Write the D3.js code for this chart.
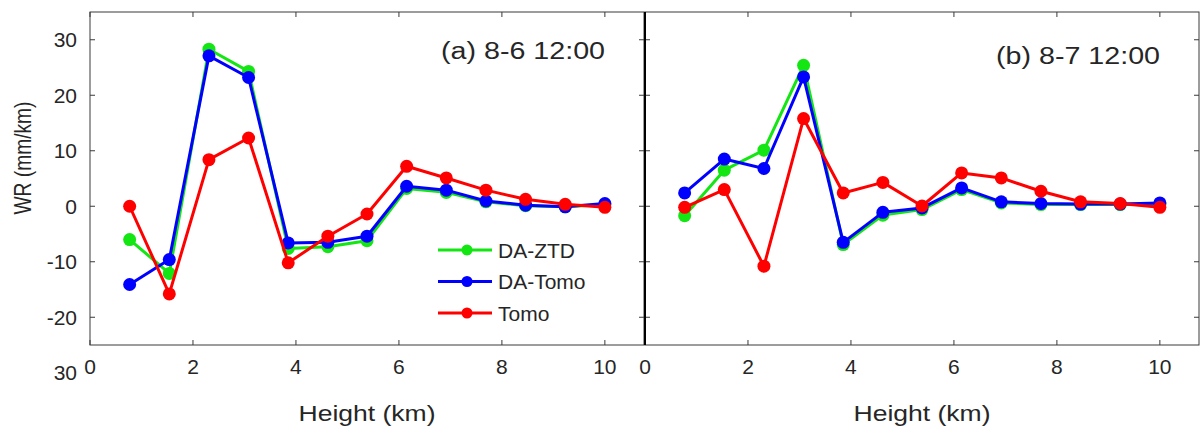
<!DOCTYPE html>
<html>
<head>
<meta charset="utf-8">
<script src="https://cdn.jsdelivr.net/npm/d3@7"></script>
<style>
  body { margin: 0; background: #fff; }
  text { font-family: "Liberation Sans", Arial, sans-serif; fill: #262626; }
</style>
</head>
<body>
<div id="chart"></div>
<script>
// heights of the layers (km)
const heights = [0.77, 1.54, 2.31, 3.08, 3.85, 4.62, 5.38, 6.15, 6.92, 7.69, 8.46, 9.23, 10.0];

// panel (a) 8-6 12:00
const aZtd    = [-6.0, -12.1, 28.3, 24.3, -7.6, -7.3, -6.2, 3.2, 2.5, 0.8, 0.1, -0.1, 0.3];
const aDaTomo = [-14.1, -9.6, 27.1, 23.2, -6.6, -6.5, -5.4, 3.6, 2.9, 0.95, 0.2, -0.1, 0.5];
const aTomo   = [0.0, -15.8, 8.4, 12.3, -10.2, -5.4, -1.4, 7.2, 5.1, 2.9, 1.25, 0.35, -0.2];

// panel (b) 8-7 12:00
const bZtd    = [-1.7, 6.5, 10.1, 25.4, -6.9, -1.6, -0.6, 3.0, 0.6, 0.3, 0.3, 0.3, 0.4];
const bDaTomo = [2.4, 8.5, 6.8, 23.3, -6.5, -1.1, -0.3, 3.3, 0.8, 0.5, 0.4, 0.4, 0.6];
const bTomo   = [-0.2, 3.0, -10.8, 15.8, 2.4, 4.3, 0.05, 6.0, 5.1, 2.7, 0.8, 0.5, -0.2];

const seriesNames = ['DA-ZTD', 'DA-Tomo', 'Tomo'];
const seriesColors = ['#14e614', '#0000ff', '#ff0000'];
const xTicks = [0, 2, 4, 6, 8, 10];
const yTicks = [-20, -10, 0, 10, 20, 30];
const titles = ['(a) 8-6 12:00', '(b) 8-7 12:00'];

const width = 1201, height = 430;
const panelW = 554, panelH = 333;
const topY = 12;
const panelLeft = [90, 645];

const svg = d3.select('#chart').append('svg')
  .attr('width', width).attr('height', height);

const x = d3.scaleLinear().domain([0, 10.76]).range([0, panelW]);
const y = d3.scaleLinear().domain([-25, 35]).range([panelH, 0]);

const panels = [
  { title: titles[0], series: [aZtd, aDaTomo, aTomo], titleY: 59, legend: true },
  { title: titles[1], series: [bZtd, bDaTomo, bTomo], titleY: 64, legend: false },
];

panels.forEach((p, i) => {
  const g = svg.append('g').attr('transform', `translate(${panelLeft[i]},${topY})`);

  // box
  g.append('rect')
    .attr('x', 0).attr('y', 0).attr('width', panelW).attr('height', panelH)
    .attr('fill', 'none').attr('stroke', '#3a3a3a').attr('stroke-width', 1);

  // ticks, all pointing inward
  const tl = 5;
  xTicks.forEach(t => {
    g.append('line').attr('x1', x(t)).attr('x2', x(t)).attr('y1', panelH).attr('y2', panelH - tl)
      .attr('stroke', '#3a3a3a');
    g.append('line').attr('x1', x(t)).attr('x2', x(t)).attr('y1', 0).attr('y2', tl)
      .attr('stroke', '#3a3a3a');
    g.append('text').attr('x', x(t)).attr('y', panelH + 29)
      .attr('text-anchor', 'middle').attr('font-size', 21).text(t);
  });
  yTicks.forEach(t => {
    g.append('line').attr('x1', 0).attr('x2', tl).attr('y1', y(t)).attr('y2', y(t))
      .attr('stroke', '#3a3a3a');
    g.append('line').attr('x1', panelW).attr('x2', panelW - tl).attr('y1', y(t)).attr('y2', y(t))
      .attr('stroke', '#3a3a3a');
    if (i === 0) {
      g.append('text').attr('x', -13).attr('y', y(t)).attr('dy', '0.36em')
        .attr('text-anchor', 'end').attr('font-size', 21).text(t);
    }
  });
  if (i === 0) {
    // clipped -30 label left over below the axis
    g.append('text').attr('x', -13).attr('y', y(-30)).attr('dy', '0.36em')
      .attr('text-anchor', 'end').attr('font-size', 21).text('30');
  }

  // series
  const line = d3.line().x((d, k) => x(heights[k])).y(d => y(d));
  p.series.forEach((vals, s) => {
    g.append('path').datum(vals).attr('d', line)
      .attr('fill', 'none').attr('stroke', seriesColors[s]).attr('stroke-width', 3)
      .attr('stroke-linejoin', 'round');
    g.selectAll(null).data(vals).join('circle')
      .attr('cx', (d, k) => x(heights[k])).attr('cy', d => y(d)).attr('r', 6.5)
      .attr('fill', seriesColors[s]);
  });

  // title
  g.append('text').attr('x', panelW - 39).attr('y', p.titleY - topY)
    .attr('text-anchor', 'end').attr('font-size', 23)
    .attr('textLength', 164).attr('lengthAdjust', 'spacingAndGlyphs')
    .attr('fill', '#111').text(p.title);

  // x label
  g.append('text').attr('x', panelW / 2).attr('y', 421 - topY)
    .attr('text-anchor', 'middle').attr('font-size', 22)
    .attr('textLength', 137).attr('lengthAdjust', 'spacingAndGlyphs')
    .text('Height (km)');

  if (p.legend) {
    const lg = g.append('g').attr('transform', `translate(${438 - panelLeft[i]},${250 - topY})`);
    seriesNames.forEach((name, s) => {
      const row = lg.append('g').attr('transform', `translate(0,${s * 31.5})`);
      row.append('line').attr('x1', 0).attr('x2', 54).attr('y1', 0).attr('y2', 0)
        .attr('stroke', seriesColors[s]).attr('stroke-width', 3);
      row.append('circle').attr('cx', 29).attr('cy', 0).attr('r', 5.5).attr('fill', seriesColors[s]);
      row.append('text').attr('x', 60).attr('y', 0).attr('dy', '0.36em')
        .attr('font-size', 21).text(name);
    });
  }
});

// separator between the panels
svg.append('line')
  .attr('x1', panelLeft[1]).attr('x2', panelLeft[1]).attr('y1', topY).attr('y2', topY + panelH)
  .attr('stroke', '#000').attr('stroke-width', 2);

// y label
svg.append('text')
  .attr('transform', `translate(31,158) rotate(-90)`)
  .attr('text-anchor', 'middle').attr('font-size', 24)
  .attr('textLength', 113).attr('lengthAdjust', 'spacingAndGlyphs')
  .text('WR (mm/km)');
</script>
</body>
</html>
